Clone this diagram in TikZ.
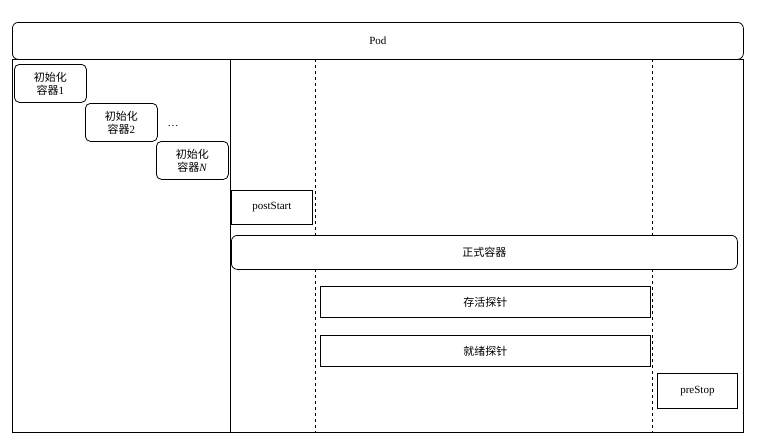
\documentclass[tikz,border=0pt]{standalone}
\usepackage{fontspec}
\setmainfont{Liberation Serif}
\newfontfamily\cjk{Noto Sans CJK SC}
\usetikzlibrary{positioning}

\begin{document}
\begin{tikzpicture}[x=1pt,y=-1pt,thick,
	box/.style={draw,font=\fontsize{11}{13}\selectfont,inner sep=0pt},
	init node/.style={box,rounded corners=5pt,minimum width=72pt,minimum height=38pt,align=center},
	stage node/.style={box,minimum height=31pt}]
	\useasboundingbox (0,0) rectangle (768,442);
	\draw (12,59) rectangle (743,432);
	\node[box,rounded corners=6pt,fill=white,minimum width=731pt,minimum height=37pt,anchor=north west] (pod) at (12,22) {Pod};
	
	\coordinate (split) at (230,59);
	\draw (split) -- (230,432);
	\draw[dashed] (315,59) -- (315,432);
	\draw[dashed] (652,59) -- (652,432);
	
	\node[init node,anchor=north west] (init1) at (14,64) {\cjk 初始化\\{\cjk 容器}1};
	\node[init node,anchor=north west] (init2) at (85,103) {\cjk 初始化\\{\cjk 容器}2};
	\node[init node,anchor=north west] (initN) at (156,141) {\cjk 初始化\\{\cjk 容器}\textit{N}};
	\node[font=\fontsize{11}{13}\selectfont] (dots) at (173,126) {\dots};
	
	\node[box,fill=white,minimum width=81pt,minimum height=34pt,anchor=north west] (post) at (231,190) {postStart};
	\node[box,rounded corners=6pt,fill=white,minimum width=506pt,minimum height=34pt,anchor=north west] (main) at (231,235) {\cjk 正式容器};
	\node[stage node,fill=white,minimum width=330pt,anchor=north west] (live) at (320,286) {\cjk 存活探针};
	\node[stage node,fill=white,minimum width=330pt,anchor=north west] (ready) at (320,335) {\cjk 就绪探针};
	\node[box,fill=white,minimum width=80pt,minimum height=35pt,anchor=north west] (pre) at (657,373) {preStop};
\end{tikzpicture}
\end{document}
